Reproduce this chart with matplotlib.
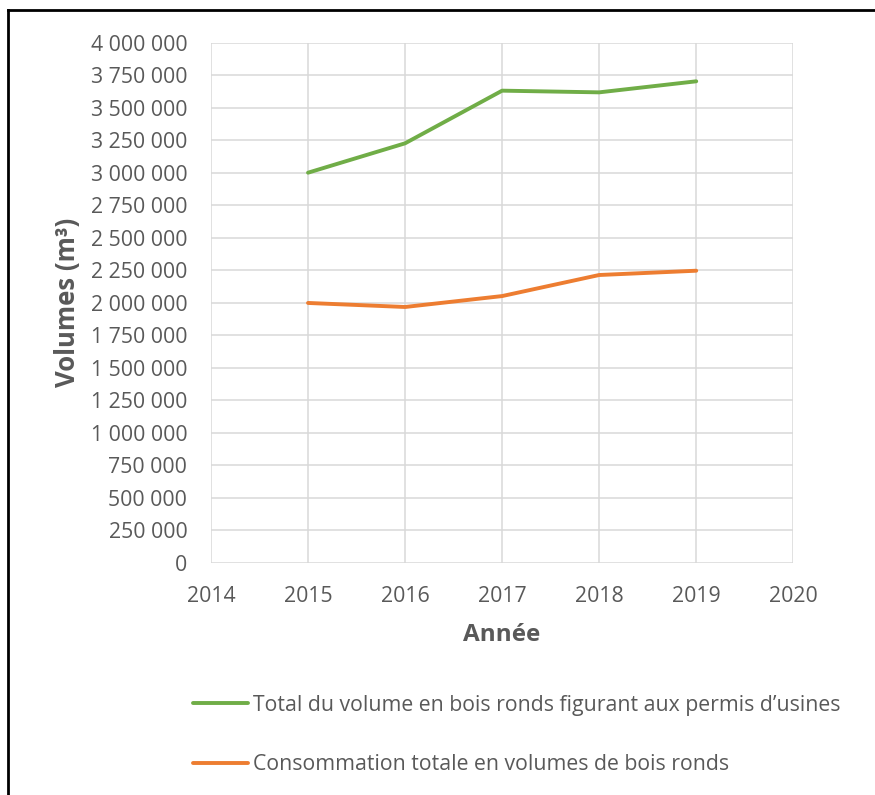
import matplotlib.pyplot as plt
from matplotlib.lines import Line2D
from matplotlib.ticker import FuncFormatter, MultipleLocator

plt.rcParams['font.family'] = ['Open Sans', 'DejaVu Sans']

# Wood volumes by year (m3)
years = [2015, 2016, 2017, 2018, 2019]
permis_usines = [3000000, 3226000, 3631000, 3618000, 3703000]
consommation = [1998000, 1967000, 2051000, 2213000, 2246000]

label_permis = "Total du volume en bois ronds figurant aux permis d\u2019usines"
label_conso = "Consommation totale en volumes de bois ronds"

green = '#70AD47'
orange = '#ED7D31'
grey_txt = '#595959'

fig = plt.figure(figsize=(8.75, 7.95), dpi=100)
ax = fig.add_axes([0.2411, 0.2922, 0.6655, 0.6541])

ax.plot(years, permis_usines, color=green, lw=2.8, solid_capstyle='round', label=label_permis)
ax.plot(years, consommation, color=orange, lw=2.8, solid_capstyle='round', label=label_conso)

ax.set_xlim(2014, 2020)
ax.set_ylim(0, 4000000)
ax.xaxis.set_major_locator(MultipleLocator(1))
ax.yaxis.set_major_locator(MultipleLocator(250000))
ax.yaxis.set_major_formatter(FuncFormatter(lambda v, p: f"{v:,.0f}".replace(",", " ")))

ax.grid(True, color='#D9D9D9', lw=1.1)
ax.set_axisbelow(True)
for s in ax.spines.values():
    s.set_visible(False)
ax.tick_params(length=0, labelsize=15.3, colors=grey_txt)
ax.tick_params(axis='y', pad=17)
ax.tick_params(axis='x', pad=17)

ax.set_xlabel("Année", fontsize=17.5, fontweight='bold', color=grey_txt, labelpad=11)
ax.set_ylabel("Volumes (m³)", fontsize=18.5, fontweight='bold', color=grey_txt, labelpad=7)

handles = [Line2D([], [], color=green, lw=2.8, solid_capstyle='round'),
           Line2D([], [], color=orange, lw=2.8, solid_capstyle='round')]
fig.legend(handles, [label_permis, label_conso], loc='upper left',
           bbox_to_anchor=(0.2206, 0.126), bbox_transform=fig.transFigure,
           frameon=False, fontsize=15.3, labelcolor=grey_txt,
           handlelength=2.6, handletextpad=0.2, labelspacing=1.8,
           borderpad=0, borderaxespad=0)

# black frame lines on the left and top edges
fig.add_artist(Line2D([0.0091, 0.0091], [0, 0.9868], color='black', lw=2, transform=fig.transFigure))
fig.add_artist(Line2D([0.0091, 1.0], [0.9868, 0.9868], color='black', lw=2, transform=fig.transFigure))

fig.savefig('out.png', dpi=100)
